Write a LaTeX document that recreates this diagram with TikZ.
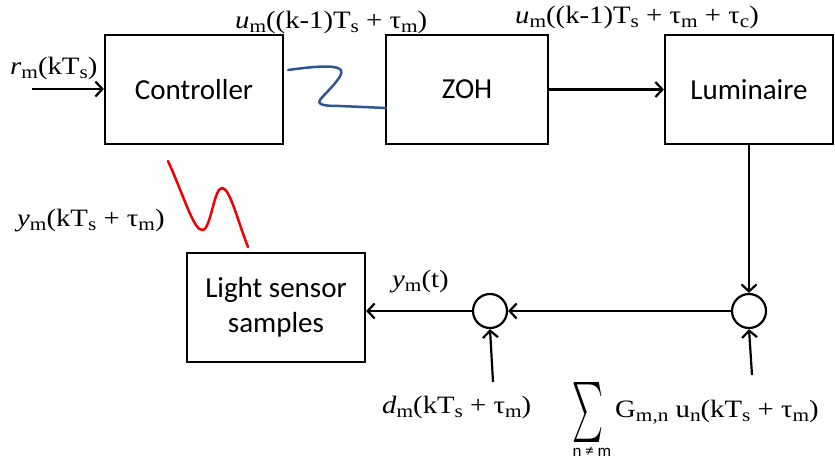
\documentclass[tikz,border=0pt]{standalone}
\usepackage{fontspec}
\setmainfont{Liberation Serif}
\newfontfamily\carl{Carlito}
\usetikzlibrary{arrows.meta}
\definecolor{wblue}{RGB}{47,85,151}
\definecolor{wred}{RGB}{240,0,0}
\newcommand\sbs[1]{\raisebox{-0.17em}{\fontsize{18.5}{20}\selectfont #1}}
\newcommand\lab[1]{\scalebox{1.15}[1]{#1}}
\begin{document}
\begin{tikzpicture}[x=1pt,y=-1pt,
  blk/.style={draw, line width=2.2pt, minimum width=#1, minimum height=109pt, inner sep=0pt,
    font=\carl\fontsize{29}{35}\selectfont, align=center},
  sumc/.style={circle, draw, line width=2.2pt, minimum size=34pt, inner sep=0pt},
  arr/.style={line width=2.2pt, -{Straight Barb[length=7pt,width=15pt]}},
  lbl/.style={inner sep=0pt, font=\fontsize{25}{28}\selectfont},
  wire/.style={line width=2.5pt, line cap=round}]
\useasboundingbox (0,0) rectangle (835,464);
\node[blk=178pt] (ctrl) at (194,89.5) {Controller};
\node[blk=162pt] (zoh) at (467,89.5) {ZOH};
\node[blk=168pt] (lum) at (749,89.5) {Luminaire};
\node[blk=178pt] (ls) at (276,307.5) {Light sensor\\samples};
\node[sumc] (s1) at (490,311) {};
\node[sumc] (s2) at (749,311) {};
\coordinate (rin) at (32,89);
\coordinate (din) at (493,382);
\coordinate (gin) at (752,375);
\draw[arr] (rin) -- (rin -| ctrl.west);
\draw[arr] (zoh.east) -- (lum.west);
\draw[arr] (lum.south) -- (s2.north);
\draw[arr] (s2.west) -- (s1.east);
\draw[arr] (s1.west) -- (s1.west -| ls.east);
\draw[arr] (din) -- (s1.south);
\draw[arr] (gin) -- (s2.south);
\draw[wire, wblue] ([shift={(4,-19.5)}]ctrl.east) .. controls (310,67) and (336,64) .. (341,70)
  .. controls (345,76) and (324,94) .. (320,100)
  .. controls (317,105) and (325,106) .. (340,106) -- ([shift={(1,18.5)}]zoh.west);
\draw[wire, wred] (168,161) .. controls (184,196) and (194,232) .. (203,230)
  .. controls (211,228) and (214,188) .. (222,188)
  .. controls (230,188) and (238,222) .. (248,247);
\node[lbl, anchor=base west] (lr) at (10,74) {\lab{\textit{r}\sbs{m}(kT\sbs{s})}};
\node[lbl, anchor=base west] (lu1) at (235,28) {\lab{\textit{u}\sbs{m}((k-1)T\sbs{s} + τ\sbs{m})}};
\node[lbl, anchor=base west] (lu2) at (515,23) {\lab{\textit{u}\sbs{m}((k-1)T\sbs{s} + τ\sbs{m} + τ\sbs{c})}};
\node[lbl, anchor=base west] (ly) at (17,226) {\lab{\textit{y}\sbs{m}(kT\sbs{s} + τ\sbs{m})}};
\node[lbl, anchor=base west] (lyt) at (392,287) {\lab{\textit{y}\sbs{m}(t)}};
\node[lbl, anchor=base west] (ld) at (382,413) {\lab{\textit{d}\sbs{m}(kT\sbs{s} + τ\sbs{m})}};
\node[lbl, anchor=base west] (lg) at (615,417) {\lab{G\sbs{m,n} u\sbs{n}(kT\sbs{s} + τ\sbs{m})}};
\node[inner sep=0pt] (sig) at (587.5,412.5) {\resizebox{31pt}{45pt}{$\sum$}};
\node[inner sep=0pt, font=\carl\fontsize{17}{20}\selectfont] (nm) at (592,452) {n ≠ m};
\end{tikzpicture}
\end{document}
